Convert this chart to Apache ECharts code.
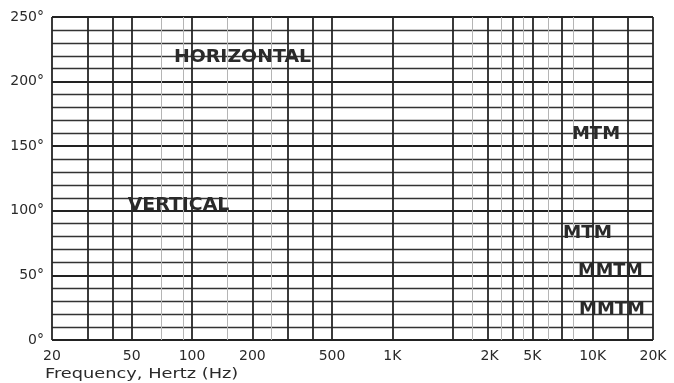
<!DOCTYPE html>
<html>
<head>
<meta charset="utf-8">
<script src="https://cdn.jsdelivr.net/npm/echarts@6/dist/echarts.min.js"></script>
<style>html,body{margin:0;padding:0;background:#fff}#c{width:674px;height:383px}</style>
</head>
<body>
<div id="c"></div>
<script>
// Axis ranges and tick labels
const freqMin = 20;
const freqMax = 20000;
const freqLabelValues = [20, 50, 100, 200, 500, 1000, 2000, 5000, 10000, 20000];
const freqLabelTexts = ['20', '50', '100', '200', '500', '1K', '2K', '5K', '10K', '20K'];
const degMin = 0;
const degMax = 250;
const degMajorStep = 50;
// Grid (chart paper) frequencies
const majorGridFreqs = [20, 30, 40, 50, 100, 200, 300, 400, 500, 1000, 2000, 3000, 4000, 5000, 7000, 10000, 15000, 20000];
const minorGridFreqs = [70, 90, 150, 250, 2500, 3500, 4500, 6000, 8000];
// Annotations
const annotationTexts = ['HORIZONTAL', 'VERTICAL', 'MTM', 'MTM', 'MMTM', 'MMTM'];
const xAxisTitle = 'Frequency, Hertz (Hz)';

const chart = echarts.init(document.getElementById('c'), null, {renderer: 'canvas'});
const ink = '#2a2a2a';
const font = 'DejaVu Sans';

function txt(text, x, y, size, weight, sx) {
  return {type: 'text', x: x, y: y, scaleX: sx, z: 10,
    style: {text: text, fill: ink, font: weight + ' ' + size + 'px "' + font + '"', textAlign: 'center', textVerticalAlign: 'middle'}};
}

const option = {
  backgroundColor: '#fff',
  animation: false,
  grid: {left: 52, right: 21, top: 17, bottom: 43},
  xAxis: {
    type: 'log', logBase: 10, min: freqMin, max: freqMax,
    axisLine: {show: false}, axisTick: {show: false}, splitLine: {show: false},
    axisLabel: {
      customValues: freqLabelValues,
      margin: 9, color: ink, fontFamily: font, fontSize: 14,
      formatter: function (v) {
        const i = freqLabelValues.indexOf(v);
        const t = i >= 0 ? freqLabelTexts[i] : '';
        return v === 2000 ? '{s|' + t + '}' : t;
      },
      rich: {s: {padding: [0, 0, 0, 74], color: ink, fontFamily: font, fontSize: 14}}
    }
  },
  yAxis: {
    type: 'value', min: degMin, max: degMax, interval: degMajorStep,
    axisLine: {show: false}, axisTick: {show: false},
    axisLabel: {margin: 8, color: ink, fontFamily: font, fontSize: 14, formatter: v => v + '°'},
    splitLine: {show: true, lineStyle: {color: '#222', width: 2.2}},
    minorTick: {show: false, splitNumber: 5},
    minorSplitLine: {show: true, lineStyle: {color: '#333', width: 1.4}}
  },
  series: [
    {
      type: 'line', data: [], silent: true,
      markLine: {
        silent: true, symbol: 'none', label: {show: false}, animation: false,
        lineStyle: {color: '#252525', width: 1.8, type: 'solid'},
        data: majorGridFreqs.map(f => ({xAxis: f}))
      }
    },
    {
      type: 'line', data: [], silent: true,
      markLine: {
        silent: true, symbol: 'none', label: {show: false}, animation: false,
        lineStyle: {color: '#b5b5b5', width: 1, type: 'solid'},
        data: minorGridFreqs.map(f => ({xAxis: f}))
      }
    }
  ],
  graphic: [
    txt(annotationTexts[0], 242.5, 57.5, 18, 'bold', 1.05),
    txt(annotationTexts[1], 178.5, 205, 18, 'bold', 1.05),
    txt(annotationTexts[2], 596, 135, 17, 'bold', 1.06),
    txt(annotationTexts[3], 587.5, 234, 17, 'bold', 1.08),
    txt(annotationTexts[4], 610.5, 271.5, 17, 'bold', 1.04),
    txt(annotationTexts[5], 612, 309.5, 17, 'bold', 1.06),
    {type: 'text', x: 45, y: 374, scaleX: 1.27, z: 10,
      style: {text: xAxisTitle, fill: ink, font: 'normal 14px "' + font + '"', textAlign: 'left', textVerticalAlign: 'middle'}}
  ]
};
chart.setOption(option);
</script>
</body>
</html>
